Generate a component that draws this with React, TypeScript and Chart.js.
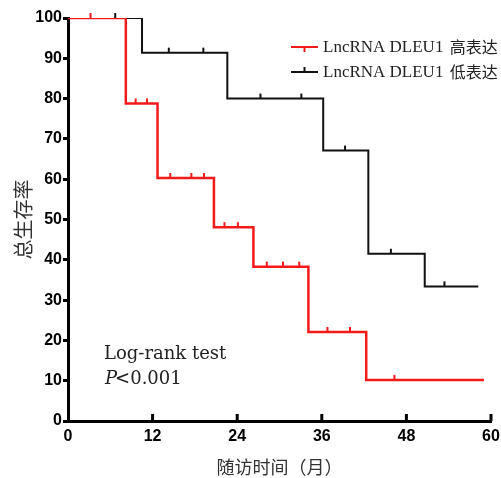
import React, { useEffect, useRef } from "react";
import { Chart, registerables } from "chart.js";

Chart.register(...registerables);

const xTickValues = [0, 12, 24, 36, 48, 60];
const seriesNames = ["LncRNA DLEU1 高表达", "LncRNA DLEU1 低表达"];
const seriesColors = ["#f41a1a", "#111111"];

// high-expression group: event times (months) and survival (%)
const highTimes = [0, 8.2, 12.7, 20.7, 26.3, 34.1, 42.3, 59.0];
const highSurv = [100, 78.8, 60.3, 48.1, 38.3, 22.1, 10.2, 10.2];
const highCensor = [3.2, 9.6, 11.2, 14.5, 17.5, 19.3, 22.2, 24.1, 28.2, 30.5, 32.8, 36.8, 40.0, 46.3];

// low-expression group
const lowTimes = [0, 10.5, 22.6, 36.2, 42.6, 50.6, 58.2];
const lowSurv = [100, 91.4, 80.0, 67.1, 41.5, 33.4, 33.4];
const lowCensor = [6.7, 14.3, 19.2, 27.3, 33.1, 39.3, 45.8, 53.4];

const testLabel = "Log-rank test";
const pLabel = ["P", "<0.001"];

function survAt(times: number[], surv: number[], t: number) {
  let v = surv[0];
  for (let i = 0; i < times.length; i++) if (times[i] <= t) v = surv[i];
  return v;
}

const censorPlugin = {
  id: "censorTicks",
  afterDatasetsDraw(chart: any) {
    const ctx = chart.ctx;
    chart.data.datasets.forEach((ds: any, i: number) => {
      if (!ds.censor) return;
      const meta = chart.getDatasetMeta(i);
      ctx.save();
      ctx.strokeStyle = ds.borderColor;
      ctx.lineWidth = 2;
      meta.data.forEach((el: any) => {
        ctx.beginPath();
        ctx.moveTo(el.x, el.y);
        ctx.lineTo(el.x, el.y - 5);
        ctx.stroke();
      });
      ctx.restore();
    });
  },
};

const decorPlugin = {
  id: "decor",
  afterDraw(chart: any) {
    const ctx = chart.ctx;
    const xs = chart.scales.x;
    const area = chart.chartArea;
    ctx.save();
    // inward x ticks
    ctx.strokeStyle = "#000";
    ctx.lineWidth = 3;
    xTickValues.forEach((v) => {
      const px = xs.getPixelForValue(v);
      if (v === 0) return;
      ctx.beginPath();
      ctx.moveTo(px, area.bottom);
      ctx.lineTo(px, area.bottom - 7);
      ctx.stroke();
    });
    // legend
    const lx0 = area.left + 223;
    const lx1 = area.left + 250;
    const rows = [area.top + 29, area.top + 54];
    seriesNames.forEach((name, i) => {
      const y = rows[i];
      ctx.strokeStyle = seriesColors[i];
      ctx.lineWidth = 2;
      ctx.beginPath();
      ctx.moveTo(lx0, y);
      ctx.lineTo(lx1, y);
      ctx.stroke();
      ctx.beginPath();
      const mx = (lx0 + lx1) / 2;
      ctx.moveTo(mx, y);
      ctx.lineTo(mx, i === 0 ? y + 5 : y - 5);
      ctx.stroke();
      ctx.fillStyle = "#222";
      ctx.textBaseline = "middle";
      ctx.textAlign = "left";
      const parts = name.split(" ");
      const latin = parts.slice(0, 2).join(" ") + " ";
      ctx.font = "17px 'Liberation Serif', serif";
      ctx.fillText(latin, lx1 + 5, y + 1);
      const w = ctx.measureText(latin).width;
      ctx.font = "16px 'Noto Sans CJK SC', sans-serif";
      ctx.fillText(parts[2], lx1 + 5 + w + 2, y);
    });
    // annotation
    ctx.fillStyle = "#222";
    ctx.textAlign = "left";
    ctx.textBaseline = "alphabetic";
    ctx.font = "18px 'DejaVu Serif', serif";
    ctx.fillText(testLabel, area.left + 36, area.top + 341);
    ctx.font = "italic 18px 'DejaVu Serif', serif";
    ctx.fillText(pLabel[0], area.left + 37, area.top + 366);
    const pw = ctx.measureText(pLabel[0]).width;
    ctx.font = "18px 'DejaVu Serif', serif";
    ctx.fillText(pLabel[1], area.left + 35 + pw, area.top + 366);
    ctx.restore();
  },
};

export default function App() {
  const ref = useRef<HTMLCanvasElement>(null);
  useEffect(() => {
    document.body.style.margin = "0";
    const tickFont = { family: "'Liberation Sans', Arial, sans-serif", size: 16, weight: "bold" as const };
    const chart = new Chart(ref.current!, {
      type: "line",
      data: {
        datasets: [
          {
            label: seriesNames[0],
            data: highTimes.map((t, i) => ({ x: t, y: highSurv[i] })),
            borderColor: seriesColors[0],
            borderWidth: 2.5,
            stepped: "before",
            pointRadius: 0,
            fill: false,
          },
          {
            label: seriesNames[1],
            data: lowTimes.map((t, i) => ({ x: t, y: lowSurv[i] })),
            borderColor: seriesColors[1],
            borderWidth: 2,
            stepped: "before",
            pointRadius: 0,
            fill: false,
          },
          {
            label: "censor-high",
            censor: true,
            data: highCensor.map((t) => ({ x: t, y: survAt(highTimes, highSurv, t) })),
            borderColor: seriesColors[0],
            showLine: false,
            pointRadius: 0,
          } as any,
          {
            label: "censor-low",
            censor: true,
            data: lowCensor.map((t) => ({ x: t, y: survAt(lowTimes, lowSurv, t) })),
            borderColor: seriesColors[1],
            showLine: false,
            pointRadius: 0,
          } as any,
        ],
      },
      options: {
        animation: false,
        responsive: true,
        maintainAspectRatio: false,
        layout: { padding: { top: 18, right: 0, left: 0, bottom: 0 } },
        plugins: { legend: { display: false }, tooltip: { enabled: false } },
        scales: {
          x: {
            type: "linear",
            min: 0,
            max: 60,
            afterFit: (s: any) => { s.height = 57; s.paddingRight = 10; s.paddingLeft = 0; },
            afterBuildTicks: (s: any) => { s.ticks = xTickValues.map((v) => ({ value: v })); },
            grid: { display: true, drawOnChartArea: false, drawTicks: false },
            border: { display: true, color: "#000", width: 3 },
            ticks: { color: "#000", font: tickFont, padding: 6, maxRotation: 0 },
            title: {
              display: true,
              text: "随访时间（月）",
              color: "#333",
              font: { family: "'Noto Sans CJK SC', sans-serif", size: 18 },
              padding: { top: 0, bottom: 0 },
            },
          },
          y: {
            min: 0,
            max: 100,
            afterFit: (s: any) => { s.width = 68; },
            ticks: { stepSize: 10, color: "#000", font: tickFont, padding: 1 },
            grid: { display: true, drawOnChartArea: false, drawTicks: true, tickLength: 5, tickWidth: 3, color: "#000" },
            border: { display: true, color: "#000", width: 3 },
            title: {
              display: true,
              text: "总生存率",
              color: "#333",
              font: { family: "'Noto Sans CJK SC', sans-serif", size: 20 },
              padding: { top: 11, bottom: 0 },
            },
          },
        },
      },
      plugins: [censorPlugin, decorPlugin],
    });
    return () => chart.destroy();
  }, []);
  return (
    <div style={{ width: 501, height: 478, position: "relative" }}>
      <canvas ref={ref} />
    </div>
  );
}
